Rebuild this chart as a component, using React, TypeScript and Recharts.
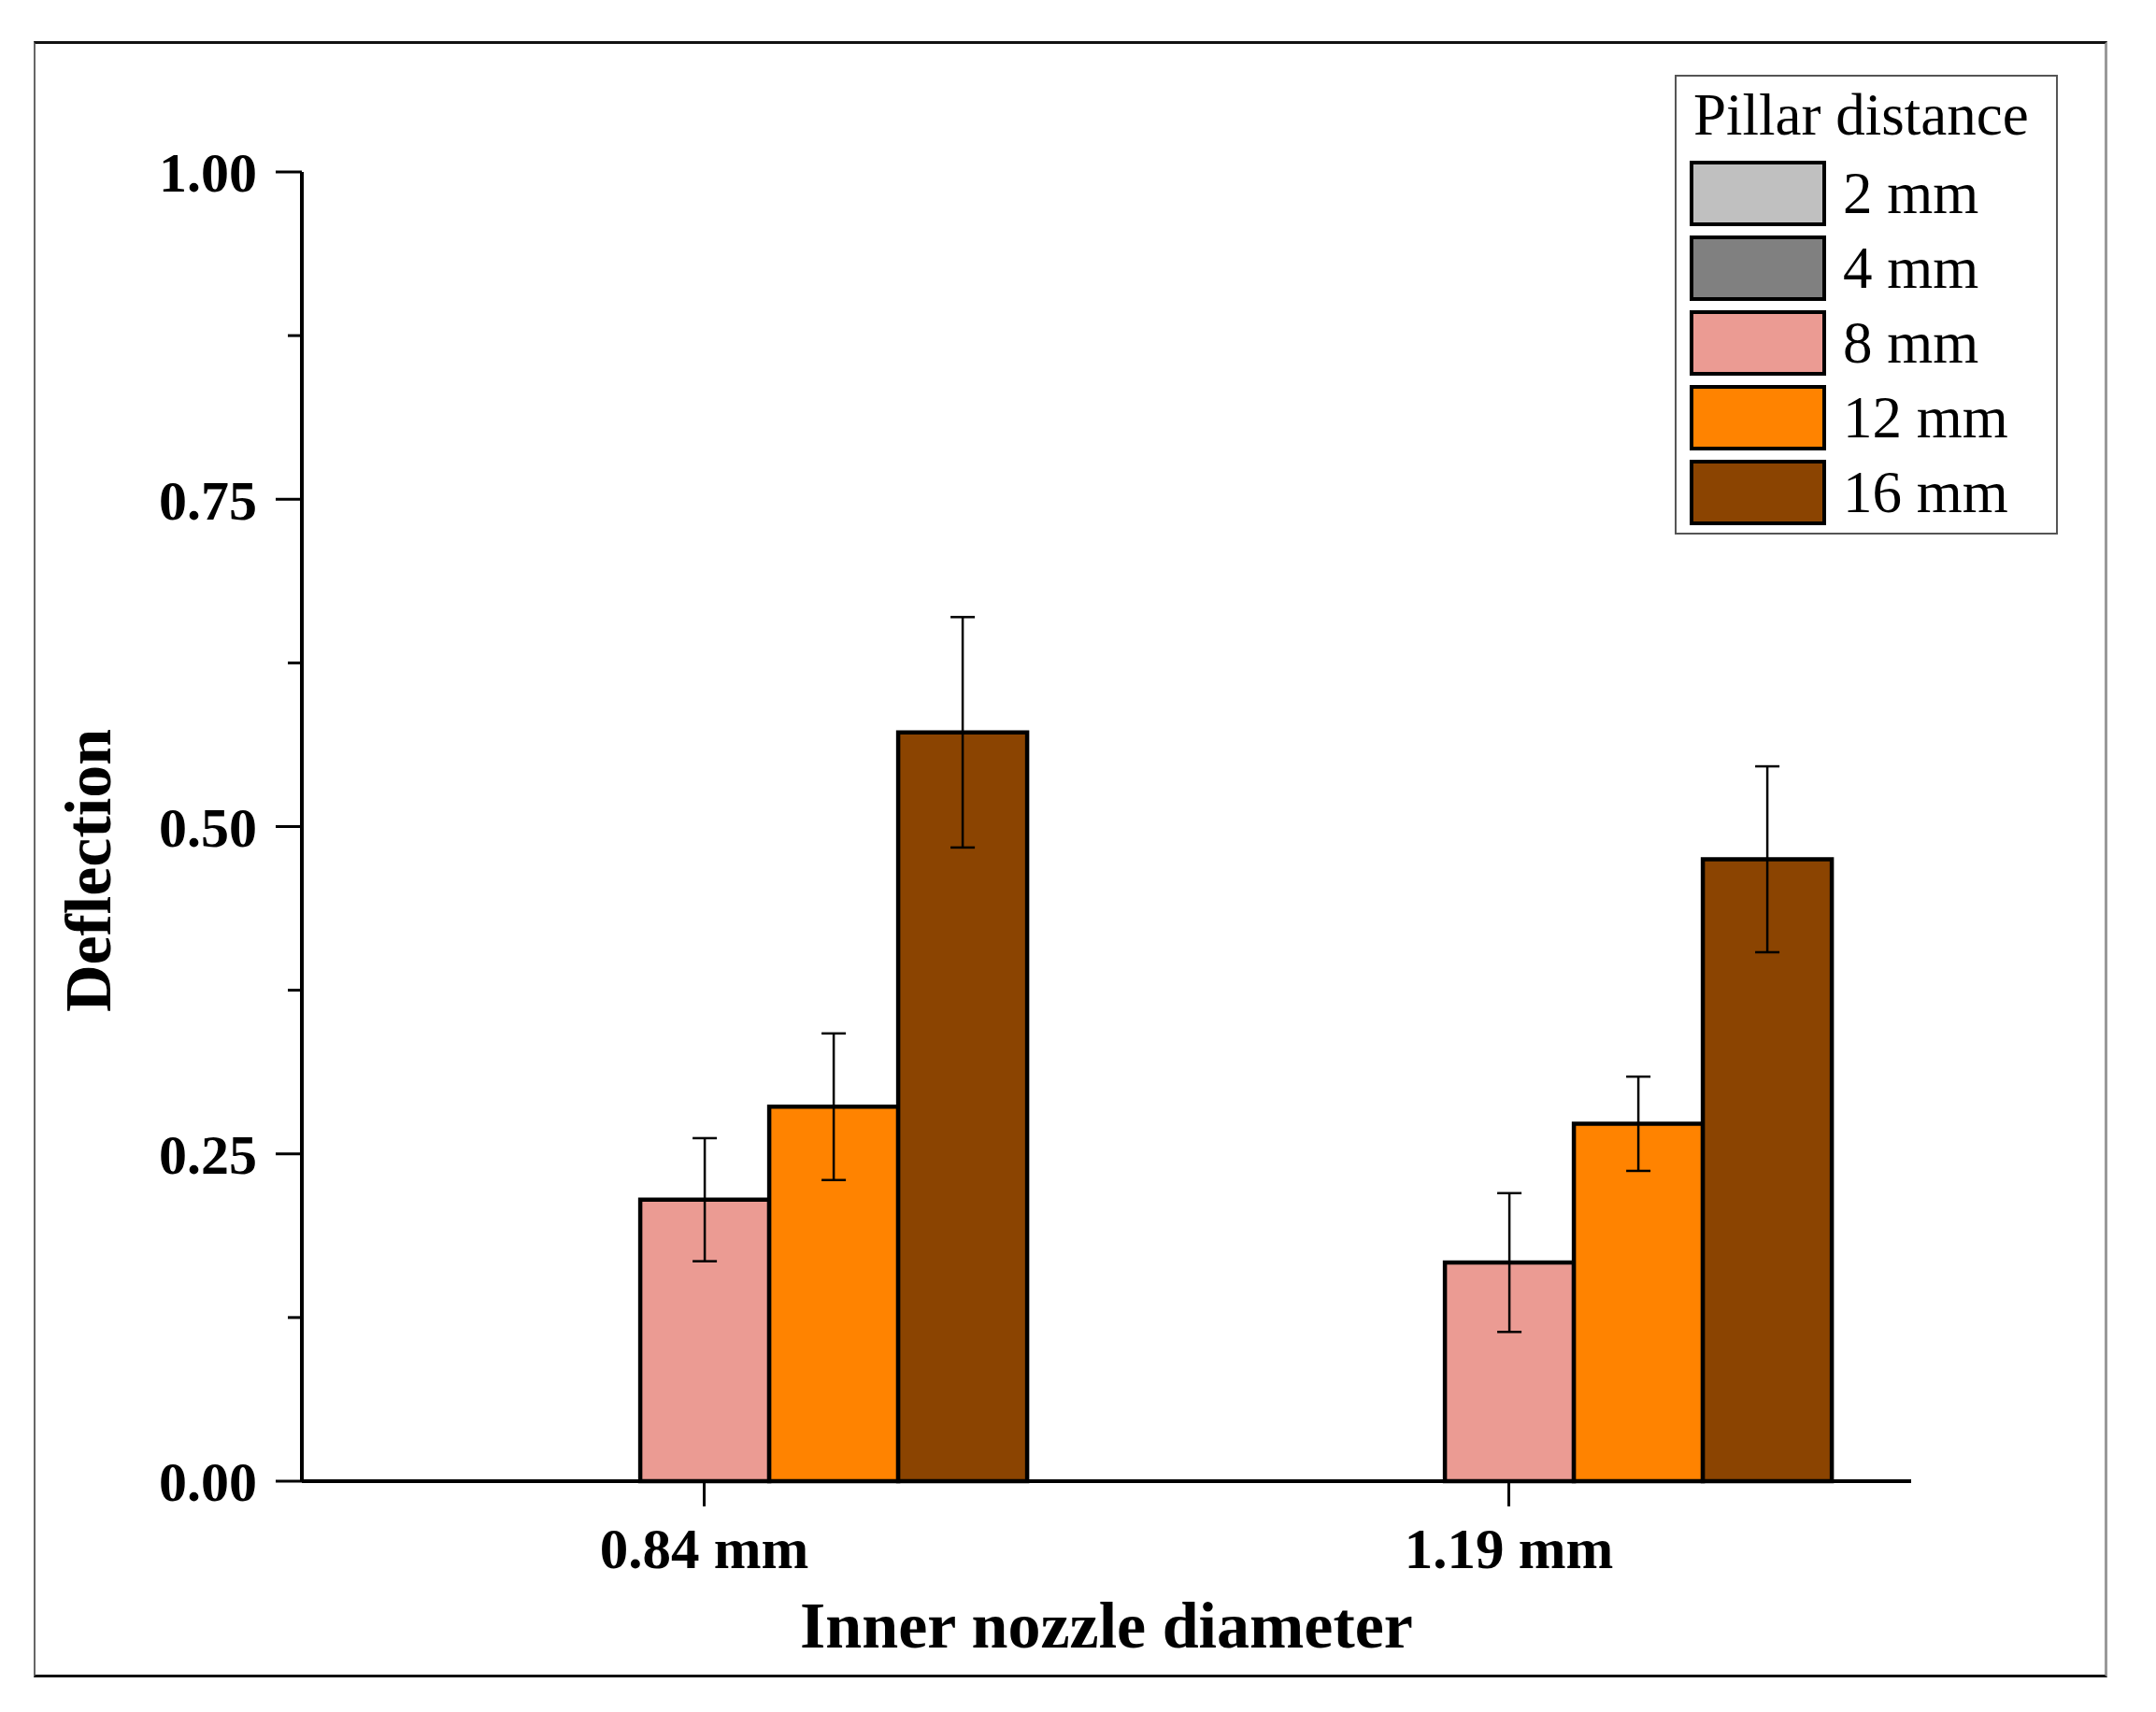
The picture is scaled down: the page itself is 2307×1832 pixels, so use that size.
import { BarChart, Bar, XAxis, YAxis, ErrorBar, Legend } from "recharts";

// Deflection vs inner nozzle diameter, grouped by pillar distance.
const categories = ["0.84 mm", "1.19 mm"];
const seriesNames = ["2 mm", "4 mm", "8 mm", "12 mm", "16 mm"];
const seriesColors = ["#c0c0c0", "#808080", "#eb9b93", "#ff8300", "#8b4401"];

const values2 = [0, 0];
const values4 = [0, 0];
const values8 = [0.215, 0.167];
const values12 = [0.286, 0.273];
const values16 = [0.572, 0.475];

const errors2 = [0, 0];
const errors4 = [0, 0];
const errors8 = [0.047, 0.053];
const errors12 = [0.056, 0.036];
const errors16 = [0.088, 0.071];

const majorTicks = [0, 0.25, 0.5, 0.75, 1.0];
const minorTicks = [0.125, 0.375, 0.625, 0.875];
const allTicks = [...majorTicks, ...minorTicks].sort((a, b) => a - b);

const seriesValues = [values2, values4, values8, values12, values16];
const seriesErrors = [errors2, errors4, errors8, errors12, errors16];

const data = categories.map((name, i) => {
  const row: Record<string, string | number> = { name };
  seriesValues.forEach((vals, s) => {
    row[`v${s}`] = vals[i];
    row[`e${s}`] = seriesErrors[s][i];
  });
  return row;
});

const FONT = "'Liberation Serif', 'Times New Roman', serif";
const TICK_MAJOR = 28;
const TICK_MINOR = 15;
const TICK_GAP = 20;

// y tick: label for major values, long/short tick mark drawn here
function YTick(props: any) {
  const { x, y, payload } = props;
  const major = majorTicks.includes(payload.value);
  const axisX = x + TICK_GAP + TICK_MAJOR;
  return (
    <g>
      <line
        x1={axisX - (major ? TICK_MAJOR : TICK_MINOR)}
        y1={y}
        x2={axisX}
        y2={y}
        stroke="#000"
        strokeWidth={3}
      />
      {major && (
        <text
          x={x}
          y={y}
          dy="0.355em"
          textAnchor="end"
          fill="#000"
          fontSize={60}
          fontWeight="bold"
          fontFamily={FONT}
        >
          {payload.value.toFixed(2)}
        </text>
      )}
    </g>
  );
}

function YTitle(props: any) {
  const vb = props.viewBox || { x: 0, y: 0, width: 0, height: 0 };
  const x = vb.x + vb.width - 205;
  const y = vb.y + vb.height / 2 + 47;
  return (
    <text
      x={x}
      y={y}
      transform={`rotate(-90, ${x}, ${y})`}
      textAnchor="middle"
      fontFamily={FONT}
      fontWeight="bold"
      fontSize={70}
      fill="#000"
    >
      Deflection
    </text>
  );
}

function LegendBox() {
  return (
    <div
      style={{
        position: "relative",
        width: 410,
        height: 492,
        boxSizing: "border-box",
        border: "2px solid #555",
        fontFamily: FONT,
        color: "#000",
        background: "#fff",
      }}
    >
      <div style={{ position: "absolute", left: 18, top: 10, fontSize: 63, lineHeight: "63px", whiteSpace: "nowrap" }}>
        Pillar distance
      </div>
      {seriesNames.map((name, i) => (
        <div
          key={name}
          style={{ position: "absolute", left: 14, top: 90 + i * 80, height: 70, display: "flex", alignItems: "center" }}
        >
          <div
            style={{
              width: 146,
              height: 70,
              boxSizing: "border-box",
              border: "4px solid #000",
              background: seriesColors[i],
            }}
          />
          <div style={{ marginLeft: 18, fontSize: 63, lineHeight: "63px", whiteSpace: "nowrap" }}>{name}</div>
        </div>
      ))}
    </div>
  );
}

export default function App() {
  return (
    <div style={{ position: "absolute", left: 0, top: 0, width: 2307, height: 1832, background: "#fff" }}>
      <BarChart
        width={2307}
        height={1832}
        data={data}
        margin={{ top: 184, right: 262, bottom: 47, left: 203 }}
        barCategoryGap="10%"
        barGap={0}
      >
        <YAxis
          width={120}
          domain={[0, 1]}
          ticks={allTicks}
          interval={0}
          tickSize={TICK_MAJOR}
          tickMargin={TICK_GAP}
          axisLine={{ stroke: "#000", strokeWidth: 4 }}
          tickLine={false}
          tick={<YTick />}
          label={<YTitle />}
        />
        <XAxis
          dataKey="name"
          height={200}
          tickSize={27}
          tickMargin={23}
          axisLine={{ stroke: "#000", strokeWidth: 4 }}
          tickLine={{ stroke: "#000", strokeWidth: 3 }}
          tick={{ fill: "#000", fontSize: 61, fontWeight: "bold", fontFamily: FONT }}
          label={{
            value: "Inner nozzle diameter",
            position: "insideBottom",
            offset: 22,
            fill: "#000",
            fontSize: 70,
            fontWeight: "bold",
            fontFamily: FONT,
          }}
        />
        <Legend
          layout="vertical"
          align="center"
          verticalAlign="middle"
          content={() => <LegendBox />}
          wrapperStyle={{ left: 1792, top: 80, width: 410, height: 492 }}
        />
        {seriesNames.map((name, s) => (
          <Bar
            key={name}
            dataKey={`v${s}`}
            name={name}
            fill={seriesColors[s]}
            stroke="#000"
            strokeWidth={4.5}
            isAnimationActive={false}
          >
            {seriesErrors[s].some((e) => e > 0) && (
              <ErrorBar dataKey={`e${s}`} direction="y" width={13} stroke="#000" strokeWidth={2.5} isAnimationActive={false} />
            )}
          </Bar>
        ))}
      </BarChart>
      <div
        style={{
          position: "absolute",
          left: 36,
          top: 44,
          width: 2219,
          height: 1751,
          boxSizing: "border-box",
          borderTop: "3px solid #111",
          borderLeft: "2px solid #666",
          borderRight: "3px solid #999",
          borderBottom: "3px solid #111",
          pointerEvents: "none",
        }}
      />
    </div>
  );
}
